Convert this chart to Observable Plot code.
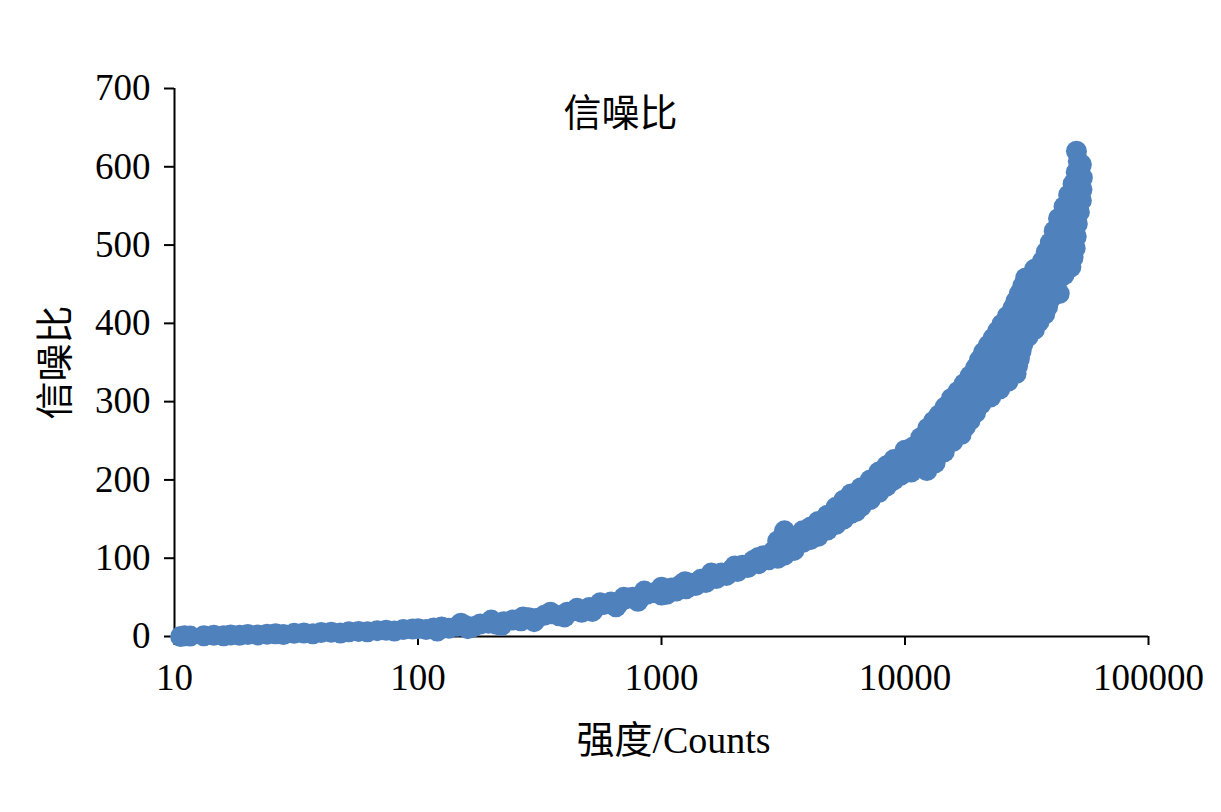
<!DOCTYPE html>
<html>
<head>
<meta charset="utf-8">
<script src="https://cdn.jsdelivr.net/npm/d3@7"></script>
<script src="https://cdn.jsdelivr.net/npm/@observablehq/plot@0.6"></script>
<style>
  html, body { margin: 0; padding: 0; background: #fff; }
</style>
</head>
<body>
<div id="chart"></div>
<script>
const titleText = "信噪比";
const yLabel = "信噪比";
const xLabel = "强度/Counts";
const xTicks = [10, 100, 1000, 10000, 100000];
const yTicks = [0, 100, 200, 300, 400, 500, 600, 700];

// low range 10 – 3000
const intensityLow = [
  10.6, 11.0, 11.6, 13.2, 14.5, 15.9, 17, 18.5, 20, 22, 24, 26, 28, 31, 34, 37, 40, 44, 48, 52,
  57, 62, 68, 74, 80, 87, 95, 100, 108, 116, 125, 134, 145, 156, 168, 180, 195, 210, 225, 245,
  265, 285, 305, 330, 355, 380, 410, 440, 470, 505, 540, 580, 620, 665, 710, 760, 815, 870, 930,
  1000, 1050, 1100, 1150, 1200, 1260, 1320, 1380, 1450, 1520, 1600, 1680, 1760, 1850, 1950, 2050, 2150, 2260, 2380, 2500,
  2620, 2750, 2880,
  150, 200, 270, 350, 450, 560, 700, 850, 1000, 1250, 1600, 2000, 2500,
  120, 160, 220, 300, 400, 520, 650, 800, 1000
];
const snrLow = [
  0, 1, 0.5, 1, 1.5, 1, 2, 1.5, 2.5, 2, 3, 3.5, 2.5, 4, 4.5, 3.5, 5, 5.5, 4.5, 6,
  6.5, 6, 7.5, 8, 7, 9, 9.5, 10, 9, 11, 12, 10.5, 13, 14, 12.5, 16, 17, 15.5, 19, 21,
  20, 24, 23, 27, 29, 26.5, 31, 33, 31, 37, 38, 41, 44, 42, 48, 50, 49, 54, 56,
  59, 54, 62, 58, 66, 61, 68, 65, 73, 69, 77, 74, 81, 78, 86, 83, 91, 88, 97, 93,
  103, 98, 109,
  17, 21, 25, 31, 36, 43, 50, 58, 63, 70, 81, 90, 101,
  7, 10, 14, 19, 25, 32, 38, 45, 53
];

// middle range 3000 – 10000
const intensityMid = [
  3000, 3000, 3000, 3200, 3200, 3250, 3300, 3500, 3500, 3800, 3800, 4100, 4100, 4400, 4400, 4800, 4800, 5200, 5200,
  5600, 5600, 6000, 6000, 6300, 6600, 6600, 7200, 7200, 7800, 7800, 8400, 8400, 9000, 9000, 9600, 10000
];
const snrMid = [
  100, 112, 122, 104, 135, 118, 128, 110, 124, 120, 135, 124, 140, 128, 147, 136, 155, 143, 165,
  150, 174, 157, 182, 160, 166, 190, 175, 200, 184, 210, 192, 218, 200, 226, 206, 238
];

// high range 9000 – 54000
const intensityHigh = [
  9100, 10600, 12300, 9900, 11500, 13300, 10800, 12600, 14500, 11600, 13500, 15700,
  12400, 14500, 17000, 13100, 15300, 17700, 13800, 16000, 18500, 14600, 17000, 19500,
  15500, 17800, 20500, 16500, 19000, 22500, 17500, 20500, 24500,
  18500, 21500, 23500, 26500, 19500, 22000, 25000, 28600, 20200, 23500, 26500, 29000, 21000, 24500, 27500, 29500,
  22000, 25500, 30000, 23000, 26500, 30500, 24000, 28000, 32000, 25000, 29000, 34000,
  26300, 31000, 35500, 27700, 32500, 37500, 28500, 33500, 38500, 29500, 34500, 39500, 43000,
  30500, 35500, 40500, 31300, 36500, 41900, 34000, 39000, 45000, 36600, 42000, 48000,
  38000, 44000, 49000, 39500, 45000, 50000, 41000, 46500, 50500, 42700, 47500, 51000,
  45000, 49500, 52000, 47000, 50500, 53000, 49000, 51500, 53300, 50500, 52300, 53500,
  51500, 53000, 50600
];
const snrHigh = [
  214, 210, 212, 228, 225, 222, 242, 238, 236, 254, 251, 249,
  266, 262, 258, 275, 272, 268, 283, 280, 276, 293, 290, 286,
  304, 301, 297, 313, 310, 306, 323, 320, 316,
  333, 330, 328, 326, 343, 340, 338, 336, 353, 350, 348, 346, 363, 360, 358, 355,
  372, 369, 365, 381, 378, 374, 390, 387, 383, 399, 396, 392,
  409, 406, 402, 419, 416, 412, 428, 425, 421, 438, 435, 431, 438,
  448, 445, 441, 458, 455, 451, 469, 466, 462, 479, 476, 472,
  491, 488, 484, 503, 500, 496, 518, 515, 511, 534, 531, 527,
  549, 546, 542, 564, 561, 557, 578, 575, 571, 593, 590, 586,
  607, 603, 620
];

const data = [
  ...intensityLow.map((x, i) => ({x, y: snrLow[i]})),
  ...intensityMid.map((x, i) => ({x, y: snrMid[i]})),
  ...intensityHigh.map((x, i) => ({x, y: snrHigh[i]}))
];

const serif = "'Liberation Serif', 'Times New Roman', 'Noto Sans CJK SC', serif";

const chart = Plot.plot({
  width: 1221,
  height: 812,
  marginLeft: 174,
  marginRight: 73,
  marginTop: 88,
  marginBottom: 176,
  style: { fontFamily: serif, fontSize: "37px", background: "#fff", color: "#000" },
  x: { type: "log", domain: [10, 100000] },
  y: { domain: [0, 700] },
  marks: [
    Plot.ruleX([10], { stroke: "#000", strokeWidth: 2 }),
    Plot.ruleY([0], { stroke: "#000", strokeWidth: 2 }),
    Plot.axisY({ ticks: yTicks, tickSize: 10, tickPadding: 14, strokeWidth: 2, fontSize: 37, label: null, tickFormat: d => String(d) }),
    Plot.axisX({ ticks: xTicks, tickSize: 9, tickPadding: 18, strokeWidth: 2, fontSize: 37, label: null, tickFormat: d => String(d) }),
    Plot.dot(data, { x: "x", y: "y", r: 10.5, fill: "#4F81BD", stroke: "none" }),
    Plot.text([titleText], { frameAnchor: "top", dx: -41, dy: 25, lineAnchor: "middle", textAnchor: "middle", fontSize: 38, fill: "#000", fontFamily: serif }),
    Plot.text([xLabel], { frameAnchor: "bottom", dx: 12, dy: 104, lineAnchor: "middle", textAnchor: "middle", fontSize: 38, fill: "#000", fontFamily: serif }),
    Plot.text([yLabel], { frameAnchor: "left", dx: -119, dy: 0, rotate: -90, lineAnchor: "middle", textAnchor: "middle", fontSize: 38, fill: "#000", fontFamily: serif })
  ]
});
document.getElementById("chart").appendChild(chart);
</script>
</body>
</html>
